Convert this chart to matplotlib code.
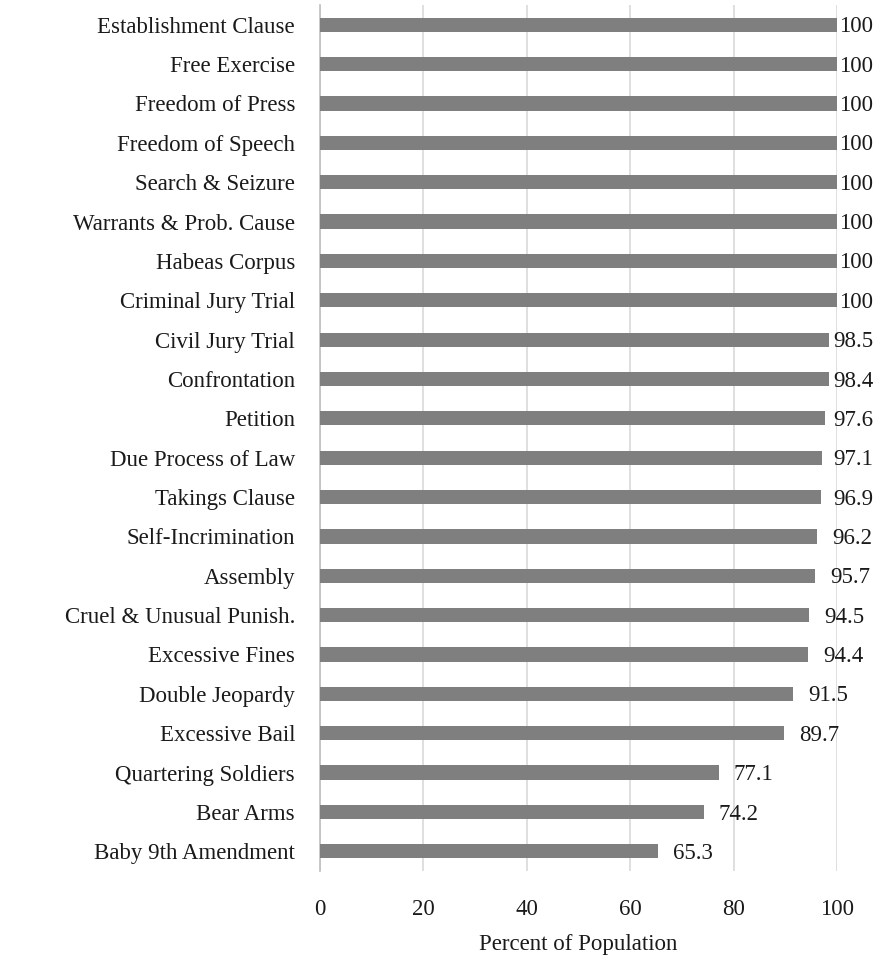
import matplotlib
matplotlib.use("Agg")
import matplotlib.pyplot as plt
from matplotlib.transforms import offset_copy

categories = [
    "Establishment Clause", "Free Exercise", "Freedom of Press", "Freedom of Speech",
    "Search & Seizure", "Warrants & Prob. Cause", "Habeas Corpus", "Criminal Jury Trial",
    "Civil Jury Trial", "Confrontation", "Petition", "Due Process of Law",
    "Takings Clause", "Self-Incrimination", "Assembly", "Cruel & Unusual Punish.",
    "Excessive Fines", "Double Jeopardy", "Excessive Bail", "Quartering Soldiers",
    "Bear Arms", "Baby 9th Amendment",
]
values = [100, 100, 100, 100, 100, 100, 100, 100, 98.5, 98.4, 97.6, 97.1,
          96.9, 96.2, 95.7, 94.5, 94.4, 91.5, 89.7, 77.1, 74.2, 65.3]
value_labels = ["100", "100", "100", "100", "100", "100", "100", "100", "98.5", "98.4",
                "97.6", "97.1", "96.9", "96.2", "95.7", "94.5", "94.4", "91.5", "89.7",
                "77.1", "74.2", "65.3"]
x_ticks = [0, 20, 40, 60, 80, 100]

plt.rcParams["font.family"] = ["Liberation Serif", "DejaVu Serif"]
FS = 16.5
TXT = "#1a1a1a"

fig = plt.figure(figsize=(8.85, 9.61), dpi=100)
ax = fig.add_axes([0.3616, 0.0937, 0.5842, 0.901])

n = len(categories)
ypos = list(range(n - 1, -1, -1))
ax.barh(ypos, values, height=0.36, color="#7f7f7f", zorder=3)

ax.set_ylim(-0.5, n - 0.5)
ax.set_xlim(0, 100)
ax.set_yticks(ypos)
ax.set_yticklabels(categories, fontsize=FS, color=TXT)
ax.set_xticks(x_ticks)
ax.set_xticklabels([str(t) for t in x_ticks], fontsize=FS, color=TXT)
ax.tick_params(axis="x", length=0, pad=20)
ax.tick_params(axis="y", length=0, pad=18)
ax.xaxis.grid(True, color="#d9d9d9", linewidth=1.2, zorder=0)
for side in ["top", "right", "bottom"]:
    ax.spines[side].set_visible(False)
ax.spines["left"].set_color("#bfbfbf")
ax.spines["left"].set_linewidth(1.2)
ax.set_xlabel("Percent of Population", fontsize=FS, color=TXT, labelpad=10)

# value labels sit just past the bar end, pushed left when they would overflow
offset = offset_copy(ax.transData, fig=fig, x=11, y=-1.5, units="points")
labels = []
for y, v, lab in zip(ypos, values, value_labels):
    t = ax.text(v, y, lab, va="center", ha="left", fontsize=FS, color=TXT,
                zorder=4, transform=offset)
    labels.append(t)

fig.canvas.draw()
renderer = fig.canvas.get_renderer()
right_limit = 873.0
for t, v, y in zip(labels, values, ypos):
    bb = t.get_window_extent(renderer)
    if bb.x1 > right_limit:
        shift_pts = (bb.x1 - right_limit) * 72.0 / fig.dpi
        t.set_transform(offset_copy(ax.transData, fig=fig, x=11 - shift_pts,
                                    y=-1.5, units="points"))

fig.savefig("out.png", dpi=100)
